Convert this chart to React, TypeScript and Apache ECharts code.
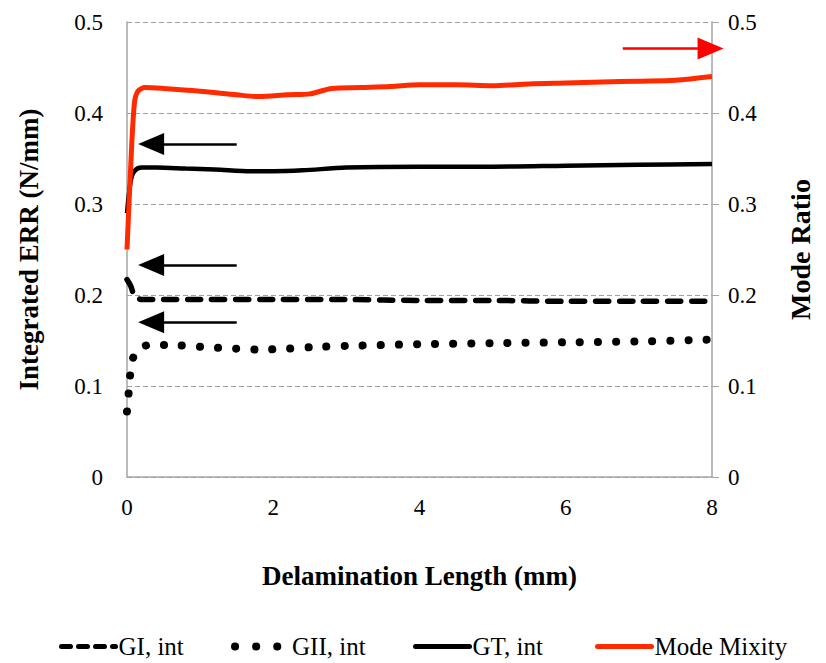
import React, { useEffect, useRef } from "react";
import * as echarts from "echarts";

const gtX = [0, 0.05, 0.1, 0.2, 0.4, 0.8, 1.2, 1.7, 2.0, 2.4, 3, 4, 5, 6, 7, 8];
const gtY = [0.29, 0.325, 0.336, 0.34, 0.34, 0.339, 0.338, 0.336, 0.336, 0.337, 0.34, 0.341, 0.341, 0.342, 0.343, 0.344];

const mmX = [0, 0.05, 0.1, 0.15, 0.25, 0.5, 1, 1.5, 1.8, 2.2, 2.5, 2.8, 3.2, 3.6, 4, 4.5, 5, 5.5, 6, 6.5, 7, 7.5, 8];
const mmY = [0.25, 0.34, 0.41, 0.424, 0.428, 0.427, 0.424, 0.42, 0.418, 0.42, 0.421, 0.427, 0.428, 0.429, 0.431, 0.431, 0.43, 0.432, 0.433, 0.434, 0.435, 0.436, 0.44];

const giX = [0, 0.05, 0.1, 0.2, 0.5, 1, 2, 3, 4, 5, 6, 7, 8];
const giY = [0.217, 0.21, 0.2, 0.195, 0.195, 0.195, 0.195, 0.195, 0.194, 0.194, 0.193, 0.193, 0.193];

const giiX = [0, 0.02, 0.04, 0.08, 0.15, 0.3, 0.6, 1, 1.5, 1.8, 2.2, 2.6, 3, 4, 5, 6, 7, 8];
const giiY = [0.072, 0.09, 0.11, 0.13, 0.14, 0.145, 0.145, 0.143, 0.141, 0.14, 0.141, 0.143, 0.144, 0.146, 0.147, 0.148, 0.149, 0.151];

const seriesNames = ["GI, int", "GII, int", "GT, int", "Mode Mixity"];
const xTicks = [0, 8, 2];
const yTicks = [0, 0.5, 0.1];

const zip = (xs: number[], ys: number[]) => xs.map((x, i) => [x, ys[i]]);

const FONT = "Liberation Serif";
const legendLefts = [54, 226, 408, 590];

const styles: any[] = [
  { color: "#000", width: 5.5, type: [13, 11], cap: "round", opacity: 1 },
  { color: "#000", width: 8, type: [0.1, 18], cap: "round", opacity: 1 },
  { color: "#000", width: 4.5, type: "solid", opacity: 1 },
  { color: "#ff2a00", width: 5, type: "solid", opacity: 1 },
];
const legendStyles: any[] = [
  { color: "#000", width: 5, type: [9, 8], cap: "round", opacity: 1 },
  { color: "#000", width: 8, type: [0.1, 21], cap: "round", opacity: 1 },
  { color: "#000", width: 5, type: "solid", cap: "round", opacity: 1 },
  { color: "#ff2a00", width: 5, type: "solid", cap: "round", opacity: 1 },
];

export default function App() {
  const ref = useRef<HTMLDivElement>(null);
  useEffect(() => {
    const chart = echarts.init(ref.current!, null, { renderer: "svg" });
    const arrowLine = (x1: number, x2: number, y: number, color: string, toRight: boolean) => ({
      silent: true,
      symbol: toRight ? ["none", "triangle"] : ["triangle", "none"],
      symbolSize: [22, 26],
      label: { show: false },
      lineStyle: { color, width: 2.5, type: "solid" },
      data: [[{ coord: [x1, y] }, { coord: [x2, y] }]],
    });
    chart.setOption({
      animation: false,
      textStyle: { fontFamily: FONT },
      grid: { left: 127, right: 114, top: 22, bottom: 186 },
      legend: seriesNames.map((n, i) => ({
        top: 629,
        left: legendLefts[i],
        itemWidth: 54,
        itemHeight: 14,
        itemStyle: { opacity: 0 },
        lineStyle: legendStyles[i],
        textStyle: { fontFamily: FONT, fontSize: 25, color: "#000", padding: [0, 0, 0, -2] },
        data: [n],
      })),
      xAxis: {
        type: "value",
        min: xTicks[0],
        max: xTicks[1],
        interval: xTicks[2],
        name: "Delamination Length (mm)",
        nameLocation: "middle",
        nameGap: 85,
        nameTextStyle: { fontFamily: FONT, fontSize: 27, fontWeight: "bold", color: "#000" },
        axisLine: { lineStyle: { color: "#a6a6a6", width: 1.5 } },
        axisTick: { show: false },
        axisLabel: { fontFamily: FONT, fontSize: 23, color: "#000", margin: 19 },
        splitLine: { show: false },
      },
      yAxis: [
        {
          type: "value",
          min: yTicks[0],
          max: yTicks[1],
          interval: yTicks[2],
          name: "Integrated ERR (N/mm)",
          nameLocation: "middle",
          nameGap: 85,
          nameTextStyle: { fontFamily: FONT, fontSize: 27, fontWeight: "bold", color: "#000" },
          axisLine: { show: true, lineStyle: { color: "#a6a6a6", width: 1.5 } },
          axisTick: { show: false },
          axisLabel: { fontFamily: FONT, fontSize: 23, color: "#000", margin: 24 },
          splitLine: { show: true, lineStyle: { color: "#a0a0a0", type: [5, 3], width: 1.2 } },
        },
        {
          type: "value",
          min: yTicks[0],
          max: yTicks[1],
          interval: yTicks[2],
          position: "right",
          name: "Mode Ratio",
          nameLocation: "middle",
          nameGap: 74,
          nameRotate: 90,
          nameTextStyle: { fontFamily: FONT, fontSize: 28, fontWeight: "bold", color: "#000" },
          axisLine: { show: true, lineStyle: { color: "#a6a6a6", width: 1.5 } },
          axisTick: { show: true, length: 7, lineStyle: { color: "#a6a6a6" } },
          axisLabel: { fontFamily: FONT, fontSize: 23, color: "#000", margin: 16 },
          splitLine: { show: false },
        },
      ],
      series: [
        {
          name: seriesNames[0],
          type: "line",
          data: zip(giX, giY),
          showSymbol: false,
          symbol: "none",
          smooth: 0.3,
          color: "#000",
          lineStyle: styles[0],
          markLine: arrowLine(0.33, 1.5, 0.233, "#000", false),
        },
        {
          name: seriesNames[1],
          type: "line",
          data: zip(giiX, giiY),
          showSymbol: false,
          symbol: "none",
          smooth: 0.3,
          color: "#000",
          lineStyle: styles[1],
          markLine: arrowLine(0.33, 1.5, 0.17, "#000", false),
        },
        {
          name: seriesNames[2],
          type: "line",
          data: zip(gtX, gtY),
          showSymbol: false,
          symbol: "none",
          smooth: 0.3,
          color: "#000",
          lineStyle: styles[2],
          markLine: arrowLine(0.33, 1.5, 0.366, "#000", false),
        },
        {
          name: seriesNames[3],
          type: "line",
          yAxisIndex: 1,
          data: zip(mmX, mmY),
          showSymbol: false,
          symbol: "none",
          smooth: 0.3,
          color: "#ff2a00",
          lineStyle: styles[3],
          markLine: arrowLine(6.78, 7.98, 0.471, "#ff0000", true),
        },
      ],
    });
    return () => chart.dispose();
  }, []);
  return <div ref={ref} style={{ width: 826, height: 663, position: "absolute", left: 0, top: 0 }} />;
}
